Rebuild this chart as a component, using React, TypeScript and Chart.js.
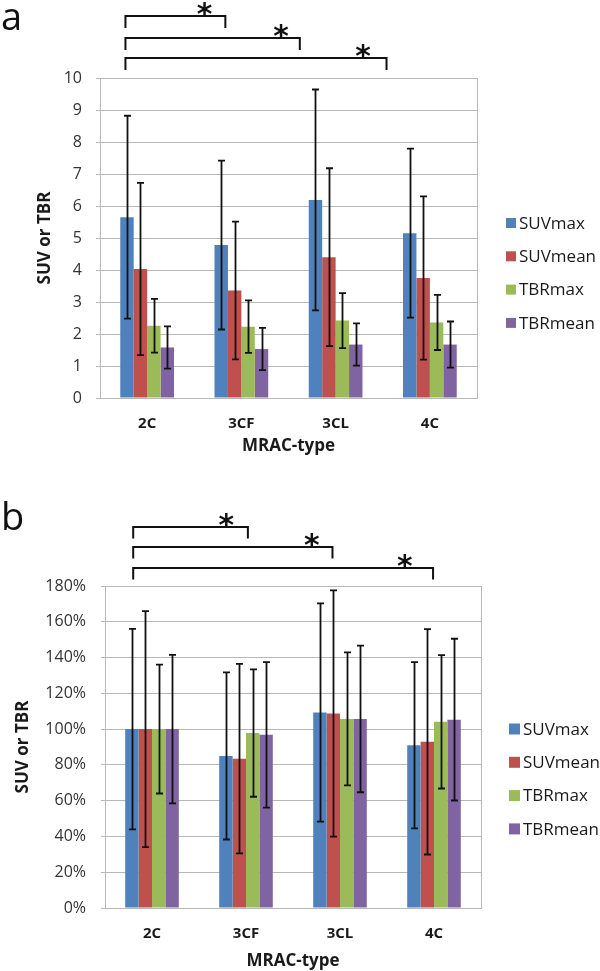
import React, { useEffect, useRef } from "react";
import { Chart, registerables } from "chart.js";

Chart.register(...registerables);

// ---------- data ----------
const categories = ["2C", "3CF", "3CL", "4C"];
const seriesLabels = ["SUVmax", "SUVmean", "TBRmax", "TBRmean"];
const seriesColors = ["#4F81BD", "#C0504D", "#9BBB59", "#8064A2"];

// panel a: absolute SUV / TBR (mean and SD)
const aSUVmax = [5.65, 4.78, 6.19, 5.15];
const aSUVmean = [4.03, 3.36, 4.4, 3.75];
const aTBRmax = [2.26, 2.23, 2.42, 2.36];
const aTBRmean = [1.58, 1.53, 1.67, 1.67];
const aSUVmaxSD = [3.17, 2.64, 3.45, 2.64];
const aSUVmeanSD = [2.69, 2.15, 2.78, 2.55];
const aTBRmaxSD = [0.84, 0.82, 0.86, 0.86];
const aTBRmeanSD = [0.66, 0.66, 0.66, 0.72];

// panel b: relative to 2C (%)
const bSUVmax = [100, 85.0, 109.3, 91.0];
const bSUVmean = [100, 83.5, 108.7, 92.9];
const bTBRmax = [100, 97.8, 105.7, 104.1];
const bTBRmean = [100, 96.8, 105.7, 105.3];
const bSUVmaxSD = [56, 46.7, 61, 46.5];
const bSUVmeanSD = [66, 53, 68.8, 63];
const bTBRmaxSD = [36, 35.6, 37.2, 37.3];
const bTBRmeanSD = [41.5, 40.7, 41, 45.2];

// significance comparisons (from category -> to category)
const sigFrom = ["2C", "2C", "2C"];
const sigTo = ["3CF", "3CL", "4C"];

const xTitle = "MRAC-type";
const yTitle = "SUV or TBR";

// ---------- styling ----------
const FONT = "'Open Sans', 'Liberation Sans', sans-serif";
const GRID = "#B8B8B8";
const TEXT = "#1a1a1a";
const TICK = "#333333";

type PanelSpec = {
  letter: string;
  height: number;
  padTop: number;
  padRight: number;
  yWidth: number;
  xHeight: number;
  yMax: number;
  yStep: number;
  percent: boolean;
  values: number[][];
  sds: number[][];
  yTickPad: number;
  yTitlePad: number;
  xTickPad: number;
  xTitlePad: number;
  letterBaseline: number;
  brLeft: number;
  brRight: number[];
  starDx: number[];
  brAbove: number[];
  brDrop: number;
  legendTop: number;
  legendGap: number;
  legendX: number;
  legendBox: number;
};

const panelA: PanelSpec = {
  letter: "a",
  height: 460,
  padTop: 78,
  padRight: 123,
  yWidth: 100,
  xHeight: 62,
  yMax: 10,
  yStep: 1,
  percent: false,
  values: [aSUVmax, aSUVmean, aTBRmax, aTBRmean],
  sds: [aSUVmaxSD, aSUVmeanSD, aTBRmaxSD, aTBRmeanSD],
  yTickPad: 14,
  yTitlePad: 35,
  xTickPad: 17,
  xTitlePad: 4,
  letterBaseline: 30,
  brLeft: -0.23,
  brRight: [-0.17, -0.38, -0.46],
  starDx: [-0.22, -0.2, -0.25],
  brAbove: [62, 40, 20],
  brDrop: 12,
  legendTop: 145,
  legendGap: 33.3,
  legendX: 506,
  legendBox: 10,
};

const panelB: PanelSpec = {
  letter: "b",
  height: 511,
  padTop: 126,
  padRight: 119,
  yWidth: 105,
  xHeight: 63,
  yMax: 180,
  yStep: 20,
  percent: true,
  values: [bSUVmax, bSUVmean, bTBRmax, bTBRmean],
  sds: [bSUVmaxSD, bSUVmeanSD, bTBRmaxSD, bTBRmeanSD],
  yTickPad: 15,
  yTitlePad: 13,
  xTickPad: 17,
  xTitlePad: 0,
  letterBaseline: 70,
  brLeft: -0.2,
  brRight: [0.02, -0.08, -0.01],
  starDx: [-0.23, -0.22, -0.3],
  brAbove: [59, 39, 18],
  brDrop: 11.5,
  legendTop: 143,
  legendGap: 33.3,
  legendX: 509,
  legendBox: 11,
};

function drawStar(ctx: CanvasRenderingContext2D, x: number, cy: number, h: number) {
  ctx.save();
  ctx.font = "bold 100px 'DejaVu Sans', sans-serif";
  const m = ctx.measureText("*");
  const gh = (m.actualBoundingBoxAscent || 45) + (m.actualBoundingBoxDescent || -5);
  const size = (h / gh) * 100;
  ctx.font = `bold ${size}px 'DejaVu Sans', sans-serif`;
  const m2 = ctx.measureText("*");
  const asc = m2.actualBoundingBoxAscent;
  const desc = m2.actualBoundingBoxDescent;
  ctx.textAlign = "center";
  ctx.textBaseline = "alphabetic";
  ctx.fillStyle = "#111";
  ctx.fillText("*", x, cy + (asc - desc) / 2);
  ctx.restore();
}

function makeDecorPlugin(p: PanelSpec) {
  return {
    id: "decor" + p.letter,
    afterDatasetsDraw(chart: any) {
      const ctx: CanvasRenderingContext2D = chart.ctx;
      const y = chart.scales.y;
      ctx.save();
      ctx.strokeStyle = "#111";
      ctx.lineWidth = 1.8;
      chart.data.datasets.forEach((ds: any, i: number) => {
        const meta = chart.getDatasetMeta(i);
        meta.data.forEach((bar: any, j: number) => {
          const v = ds.data[j];
          const sd = p.sds[i][j];
          const yt = y.getPixelForValue(v + sd);
          const yb = y.getPixelForValue(v - sd);
          const x = Math.round(bar.x) + 0.5;
          ctx.beginPath();
          ctx.moveTo(x, yt);
          ctx.lineTo(x, yb);
          ctx.moveTo(x - 3.5, yt);
          ctx.lineTo(x + 3.5, yt);
          ctx.moveTo(x - 3.5, yb);
          ctx.lineTo(x + 3.5, yb);
          ctx.stroke();
        });
      });
      ctx.restore();
    },
    afterDraw(chart: any) {
      const ctx: CanvasRenderingContext2D = chart.ctx;
      const area = chart.chartArea;
      const xs = chart.scales.x;
      ctx.save();
      // right border of plot area
      ctx.strokeStyle = GRID;
      ctx.lineWidth = 1;
      const rx = Math.round(area.right) + 0.5;
      ctx.beginPath();
      ctx.moveTo(rx, area.top);
      ctx.lineTo(rx, area.bottom);
      ctx.stroke();

      // significance brackets
      ctx.strokeStyle = "#111";
      ctx.lineWidth = 2;
      sigFrom.forEach((f, k) => {
        const fi = categories.indexOf(f);
        const ti = categories.indexOf(sigTo[k]);
        const x1 = xs.getPixelForValue(fi + p.brLeft);
        const x2 = xs.getPixelForValue(ti + p.brRight[k]);
        const yl = area.top - p.brAbove[k];
        ctx.beginPath();
        ctx.moveTo(x1, yl + p.brDrop);
        ctx.lineTo(x1, yl);
        ctx.lineTo(x2, yl);
        ctx.lineTo(x2, yl + p.brDrop);
        ctx.stroke();
        const sx = xs.getPixelForValue(ti + p.brRight[k] + p.starDx[k]);
        drawStar(ctx, sx, yl - 7, 14);
      });

      // legend
      ctx.font = `17px ${FONT}`;
      ctx.textAlign = "left";
      ctx.textBaseline = "middle";
      chart.data.datasets.forEach((ds: any, i: number) => {
        const cy = area.top + p.legendTop + i * p.legendGap;
        ctx.fillStyle = ds.backgroundColor;
        ctx.fillRect(p.legendX, cy - p.legendBox / 2, p.legendBox, p.legendBox);
        ctx.fillStyle = TEXT;
        ctx.fillText(ds.label, p.legendX + p.legendBox + 3, cy + 1);
      });

      // panel letter
      ctx.font = `38px ${FONT}`;
      ctx.textBaseline = "alphabetic";
      ctx.fillStyle = "#111";
      ctx.fillText(p.letter, 1, p.letterBaseline);
      ctx.restore();
    },
  };
}

function buildChart(canvas: HTMLCanvasElement, p: PanelSpec) {
  const datasets = p.values.map((vals, i) => ({
    label: seriesLabels[i],
    data: vals,
    backgroundColor: seriesColors[i],
    borderWidth: 0,
    categoryPercentage: 0.57,
    barPercentage: 1.0,
  }));
  return new Chart(canvas, {
    type: "bar",
    data: { labels: categories, datasets },
    options: {
      responsive: false,
      animation: false,
      layout: { padding: { top: p.padTop, right: p.padRight, left: 0, bottom: 0 } },
      plugins: { legend: { display: false }, tooltip: { enabled: false } },
      scales: {
        x: {
          grid: { display: false, drawTicks: false },
          border: { display: true, color: GRID, width: 1 },
          ticks: {
            color: TEXT,
            padding: p.xTickPad,
            font: { family: FONT, size: 15, weight: "bold" },
          },
          title: {
            display: true,
            text: xTitle,
            color: TEXT,
            font: { family: FONT, size: 17, weight: "bold" },
            padding: { top: 0, bottom: p.xTitlePad },
          },
          afterFit: (s: any) => {
            s.height = p.xHeight;
          },
        },
        y: {
          min: 0,
          max: p.yMax,
          grid: { color: GRID, tickLength: 4, drawTicks: true, lineWidth: 1 },
          border: { display: true, color: GRID, width: 1 },
          ticks: {
            stepSize: p.yStep,
            color: TICK,
            padding: p.yTickPad,
            font: { family: FONT, size: 16 },
            callback: (v: any) => (p.percent ? `${v}%` : `${v}`),
          },
          title: {
            display: true,
            text: yTitle,
            color: TEXT,
            font: { family: FONT, size: 17, weight: "bold" },
            padding: { top: p.yTitlePad, bottom: 0 },
          },
          afterFit: (s: any) => {
            s.width = p.yWidth;
          },
        },
      },
    },
    plugins: [makeDecorPlugin(p)],
  } as any);
}

function Panel({ spec, top }: { spec: PanelSpec; top: number }) {
  const ref = useRef<HTMLCanvasElement>(null);
  useEffect(() => {
    const chart = buildChart(ref.current as HTMLCanvasElement, spec);
    return () => chart.destroy();
  }, [spec]);
  return (
    <div style={{ position: "absolute", left: 0, top, width: 600, height: spec.height }}>
      <canvas ref={ref} width={600} height={spec.height} style={{ display: "block" }} />
    </div>
  );
}

export default function App() {
  return (
    <div style={{ position: "absolute", left: 0, top: 0, width: 600, height: 971, background: "#fff" }}>
      <Panel spec={panelA} top={0} />
      <Panel spec={panelB} top={460} />
    </div>
  );
}
